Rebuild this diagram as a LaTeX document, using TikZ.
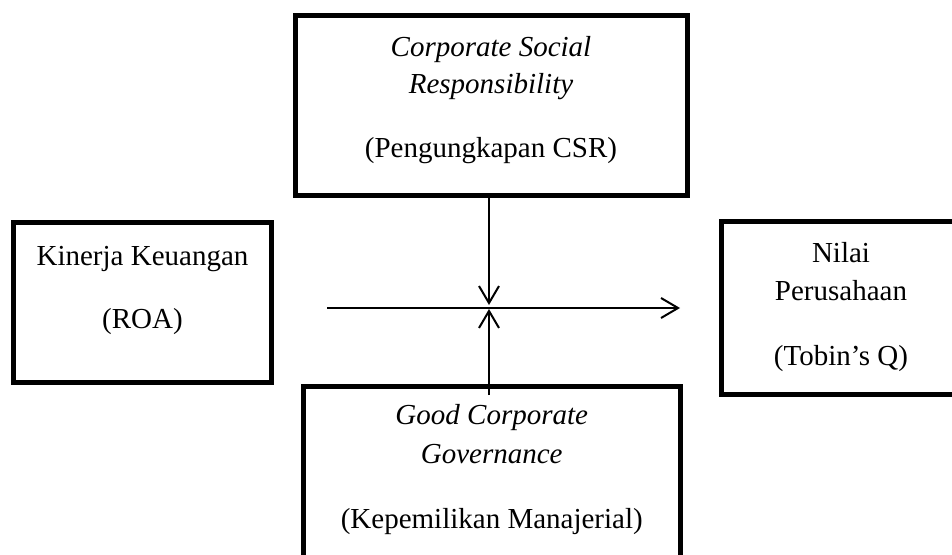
\documentclass[tikz,border=0pt]{standalone}
\usepackage{fontspec}
\setmainfont{Liberation Serif}
\usetikzlibrary{arrows.meta}
\begin{document}
\begin{tikzpicture}[x=1pt,y=-1pt,
  box/.style={draw=black,line width=5pt,rectangle,inner sep=0pt},
  lbl/.style={inner sep=0pt,anchor=base,font=\fontsize{29}{35}\selectfont},
  conn/.style={line width=2pt},
  arr/.style={conn,-{Straight Barb[length=17pt,width=20pt]}}]
\useasboundingbox (0,0) rectangle (952,554);
\clip (0,0) rectangle (952,554);
% boxes
\node[box,minimum width=392pt,minimum height=180pt] (csr) at (491,105.5) {};
\node[box,minimum width=258pt,minimum height=160pt] (roa) at (142.5,302.5) {};
\node[box,minimum width=242pt,minimum height=173pt] (nilai) at (842,308) {};
\node[box,minimum width=376.5pt,minimum height=184pt] (gcg) at (491.75,478) {};
% texts
\node[lbl] (csr1) at (491,56) {\itshape Corporate Social};
\node[lbl] (csr2) at (491,93) {\itshape Responsibility};
\node[lbl] (csr3) at (491,157) {(Pengungkapan CSR)};
\node[lbl] (roa1) at (142.5,265.5) {Kinerja Keuangan};
\node[lbl] (roa2) at (142.5,328.5) {(ROA)};
\node[lbl] (nil1) at (841,262) {Nilai};
\node[lbl] (nil2) at (841,300.5) {Perusahaan};
\node[lbl] (nil3) at (841,365.5) {(Tobin’s Q)};
\node[lbl] (gcg1) at (491.75,424) {\itshape Good Corporate};
\node[lbl] (gcg2) at (491.75,463.5) {\itshape Governance};
\node[lbl] (gcg3) at (491.75,528) {(Kepemilikan Manajerial)};
% connector points
\coordinate (hstart) at (327,308);
\coordinate (hend) at (680,308);
\coordinate (downend) at (489,305);
\coordinate (upstart) at (489,395);
\coordinate (upend) at (489,309);
% connectors
\draw[arr] (csr.south -| downend) -- (downend);
\draw[arr] (upstart) -- (upend);
\draw[arr] (hstart) -- (hend);
\end{tikzpicture}
\end{document}
